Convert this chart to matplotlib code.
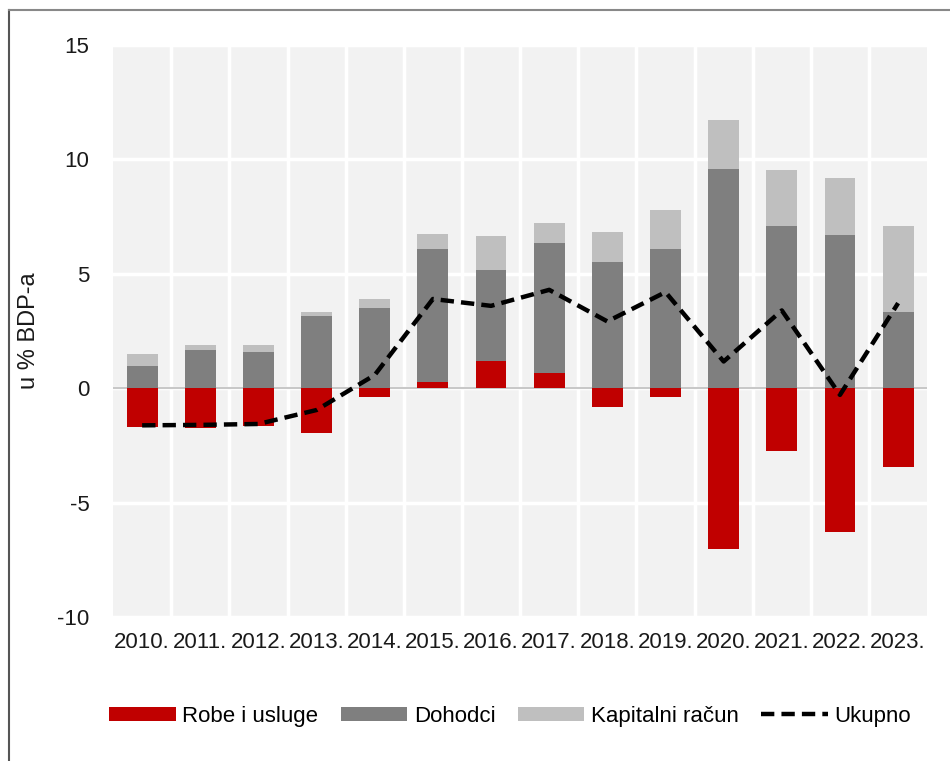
import matplotlib
matplotlib.use("Agg")
import matplotlib.pyplot as plt
from matplotlib.lines import Line2D
import numpy as np

plt.rcParams['font.family'] = ['Liberation Sans', 'DejaVu Sans']
plt.rcParams['axes.unicode_minus'] = False

years = ['2010.', '2011.', '2012.', '2013.', '2014.', '2015.', '2016.',
         '2017.', '2018.', '2019.', '2020.', '2021.', '2022.', '2023.']
robe = [-1.68, -1.72, -1.65, -1.97, -0.37, 0.29, 1.17, 0.68, -0.83, -0.37,
        -7.04, -2.73, -6.28, -3.43]
dohodci = [0.98, 1.68, 1.58, 3.17, 3.50, 5.81, 3.98, 5.67, 5.52, 6.10,
           9.59, 7.11, 6.70, 3.34]
kapitalni = [0.52, 0.19, 0.29, 0.16, 0.41, 0.66, 1.49, 0.88, 1.30, 1.67,
             2.12, 2.41, 2.47, 3.77]
ukupno = [-1.62, -1.60, -1.56, -0.95, 0.58, 3.90, 3.60, 4.30, 2.92, 4.20,
          1.17, 3.40, -0.29, 3.72]

RED = '#c00000'
DARK = '#7f7f7f'
LIGHT = '#bfbfbf'

fig = plt.figure(figsize=(9.5, 7.61), dpi=100)
ax = fig.add_axes([0.119, 0.189, 0.857, 0.752])
ax.set_facecolor('#f2f2f2')

x = np.arange(len(years))
robe = np.array(robe)
dohodci = np.array(dohodci)
kapitalni = np.array(kapitalni)
w = 0.53

base = np.maximum(robe, 0)
ax.axhline(0, color='#c8c8c8', lw=1.5, zorder=1)
b1 = ax.bar(x, robe, w, color=RED, zorder=2)
b2 = ax.bar(x, dohodci, w, bottom=base, color=DARK, zorder=2)
b3 = ax.bar(x, kapitalni, w, bottom=base + dohodci, color=LIGHT, zorder=2)
l1, = ax.plot(x, ukupno, color='black', lw=3.2, linestyle=(0, (3, 1.6)),
              zorder=3)

ax.set_xlim(-0.5, len(years) - 0.5)
ax.set_ylim(-10, 15)
ax.set_yticks([-10, -5, 0, 5, 10, 15])
ax.set_xticks(x)
ax.set_xticklabels(years)
ax.set_xticks(np.arange(len(years) - 1) + 0.5, minor=True)
ax.grid(axis='y', which='major', color='white', lw=2.5, zorder=0)
ax.grid(axis='x', which='minor', color='white', lw=2.5, zorder=0)
ax.tick_params(axis='both', which='both', length=0, labelsize=16,
               colors='#1a1a1a')
ax.tick_params(axis='y', pad=17)
ax.tick_params(axis='x', pad=11)
for s in ax.spines.values():
    s.set_visible(False)
ax.set_axisbelow(True)

ax.set_ylabel('u % BDP-a', fontsize=17, color='#1a1a1a')
ax.yaxis.set_label_coords(-0.09, 0.5)

fig.legend([b1, b2, b3, l1],
           ['Robe i usluge', 'Dohodci', 'Kapitalni račun', 'Ukupno'],
           loc='center', bbox_to_anchor=(0.537, 0.059),
           ncol=4, frameon=False, fontsize=16, handlelength=3.0,
           handleheight=0.6, handletextpad=0.3, columnspacing=1.0)

# frame lines on the left and top edge of the image
fig.add_artist(Line2D([9 / 950, 9 / 950], [0, 1 - 10 / 761],
                      transform=fig.transFigure, color='#555555', lw=1.5))
fig.add_artist(Line2D([9 / 950, 1], [1 - 10 / 761, 1 - 10 / 761],
                      transform=fig.transFigure, color='#888888', lw=1.5))

fig.savefig('out.png', dpi=100)
